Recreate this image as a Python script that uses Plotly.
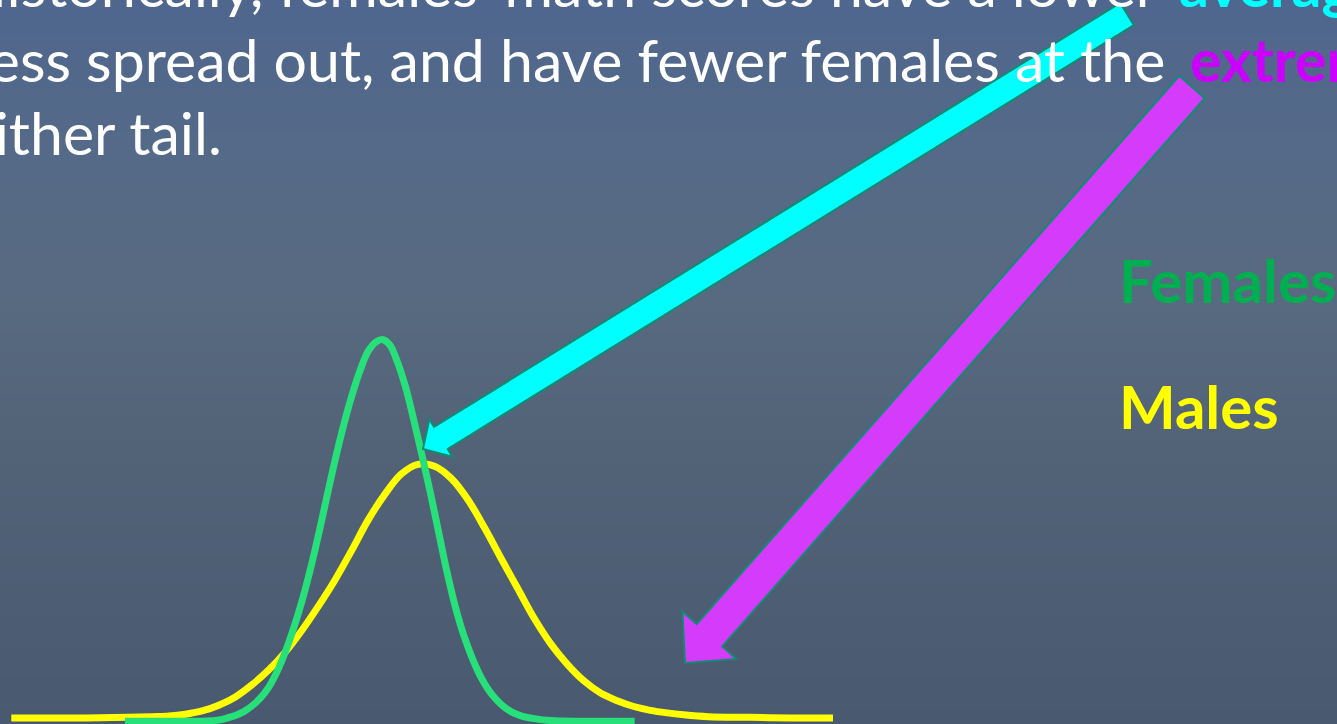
import plotly.graph_objects as go

W, H = 1337, 724

# ---- data (score scale, relative density) ----
male_score = [10, 100, 150, 180, 200, 220, 240, 260, 280, 300, 320, 340, 360, 380, 400, 420, 440, 460, 480,
              500, 520, 540, 560, 580, 600, 620, 640, 660, 680, 700, 720, 740, 760, 780, 800, 820, 850,
              900, 950, 1000]
male_density = [0.00, 0.00, 0.01, 0.02, 0.03, 0.06, 0.11, 0.20, 0.33, 0.52, 0.75, 1.03, 1.37, 1.75, 2.16, 2.62,
                3.10, 3.50, 3.82, 3.97, 3.94, 3.75, 3.42, 2.98, 2.50, 2.03, 1.56, 1.16, 0.84, 0.58, 0.39,
                0.27, 0.18, 0.12, 0.08, 0.05, 0.02, 0.01, 0.00, 0.00]

female_score = [147, 200, 240, 260, 270, 280, 290, 300, 310, 320, 330, 340, 350, 360, 370, 380, 390, 400,
                410, 420, 430, 440, 450, 458, 466, 475, 485, 495, 505, 515, 525, 535, 545, 555, 565, 575,
                585, 595, 605, 615, 625, 640, 660, 700, 761]
female_density = [-0.05, -0.05, -0.05, -0.03, 0.00, 0.04, 0.10, 0.19, 0.31, 0.48, 0.72, 1.03, 1.40, 1.82,
                  2.31, 2.86, 3.45, 4.03, 4.56, 5.03, 5.43, 5.74, 5.89, 5.92, 5.84, 5.58, 5.18, 4.66, 4.10,
                  3.52, 2.90, 2.28, 1.74, 1.30, 0.95, 0.66, 0.44, 0.28, 0.16, 0.08, 0.03, -0.01, -0.04,
                  -0.05, -0.05]

series_names = ["Males", "Females"]
text_line1 = "Historically, females\u2019 math scores have a lower"
text_line1_hl = "average, are"
text_line2 = "are less spread out, and have fewer females at the"
text_line2_hl = "extremes"
text_line3 = "of either tail."

# ---- styling ----
YELLOW = "#FFFF00"
GREEN_LINE = "#27E07A"
GREEN_TEXT = "#00B050"
CYAN = "#00FFFF"
MAGENTA_FILL = "#D53BFB"
MAGENTA_TEXT = "#CC00FF"
OUTLINE = "#138A72"
FONT = "Lato"


def P(x, y):
    return x / W, 1 - y / H


fig = go.Figure()
fig.add_trace(go.Scatter(x=male_score, y=male_density, mode="lines", name=series_names[0],
                         line=dict(color=YELLOW, width=7, shape="spline", smoothing=1.0),
                         hoverinfo="skip"))
fig.add_trace(go.Scatter(x=female_score, y=female_density, mode="lines", name=series_names[1],
                         line=dict(color=GREEN_LINE, width=7, shape="spline", smoothing=1.0),
                         hoverinfo="skip"))

# background gradient (layout decoration)
stops = [(0, (79, 102, 142)), (150, (85, 106, 136)), (300, (88, 106, 128)),
         (450, (82, 99, 120)), (600, (77, 93, 115)), (724, (73, 89, 112))]


def col_at(y):
    for (y0, c0), (y1, c1) in zip(stops[:-1], stops[1:]):
        if y0 <= y <= y1:
            t = (y - y0) / (y1 - y0)
            return "rgb(%d,%d,%d)" % tuple(round(a + (b - a) * t) for a, b in zip(c0, c1))
    return "rgb(%d,%d,%d)" % stops[-1][1]


shapes = []
step = 4
for y in range(0, H, step):
    x0, y0 = P(0, y)
    x1, y1 = P(W, y + step + 1)
    shapes.append(dict(type="rect", xref="paper", yref="paper", x0=x0, x1=x1, y0=y1, y1=y0,
                       fillcolor=col_at(y + step / 2), line=dict(width=0), layer="below"))


def arrow(tip, tail, L, hh, hs, fill):
    dx, dy = tip[0] - tail[0], tip[1] - tail[1]
    ln = (dx * dx + dy * dy) ** 0.5
    ux, uy = dx / ln, dy / ln
    nx, ny = -uy, ux
    bx, by = tip[0] - L * ux, tip[1] - L * uy
    pts = [(tail[0] - hs * nx, tail[1] - hs * ny), (bx - hs * nx, by - hs * ny),
           (bx - hh * nx, by - hh * ny), tip, (bx + hh * nx, by + hh * ny),
           (bx + hs * nx, by + hs * ny), (tail[0] + hs * nx, tail[1] + hs * ny)]
    path = "M " + " L ".join("%.5f,%.5f" % P(*p) for p in pts) + " Z"
    return dict(type="path", xref="paper", yref="paper", path=path, fillcolor=fill,
                line=dict(color=OUTLINE, width=2), layer="above")


shapes.append(arrow((423, 449), (1127, 14), 21, 22, 13, CYAN))
shapes.append(arrow((685, 663), (1192, 87), 37, 36, 17, MAGENTA_FILL))

annotations = []


def txt(text, x, y, anchor, color, size, bold=False):
    px, py = P(x, y)
    annotations.append(dict(text=("<b>%s</b>" % text) if bold else text, x=px, y=py,
                            xref="paper", yref="paper", xanchor=anchor, yanchor="middle",
                            showarrow=False, font=dict(family=FONT, size=size, color=color)))


BS = 59
txt(text_line1, 1160, -15, "right", "white", BS)
txt(text_line1_hl, 1177, -15, "left", CYAN, BS, True)
txt(text_line2, 1167, 59, "right", "white", BS)
txt(text_line2_hl, 1188, 59, "left", MAGENTA_TEXT, BS, True)
txt(text_line3, 224, 133, "right", "white", BS)
txt(series_names[1], 1117, 280, "left", GREEN_TEXT, 60, True)
txt(series_names[0], 1117, 406, "left", YELLOW, 60, True)

# axes: score on x, density on y (hidden)
x_lo = 500 - 418 / 0.83
x_hi = 500 + (W - 418) / 0.83
y_lo = -6 / 63.9
y_hi = 718 / 63.9
fig.update_layout(
    width=W, height=H, margin=dict(l=0, r=0, t=0, b=0),
    paper_bgcolor="#55677f", plot_bgcolor="rgba(0,0,0,0)",
    showlegend=False, shapes=shapes, annotations=annotations,
    xaxis=dict(range=[x_lo, x_hi], visible=False, fixedrange=True),
    yaxis=dict(range=[y_lo, y_hi], visible=False, fixedrange=True),
)

fig.write_html("out.html", config={"displayModeBar": False, "staticPlot": True},
               post_script="document.body.style.margin='0px';document.body.style.overflow='hidden';")
